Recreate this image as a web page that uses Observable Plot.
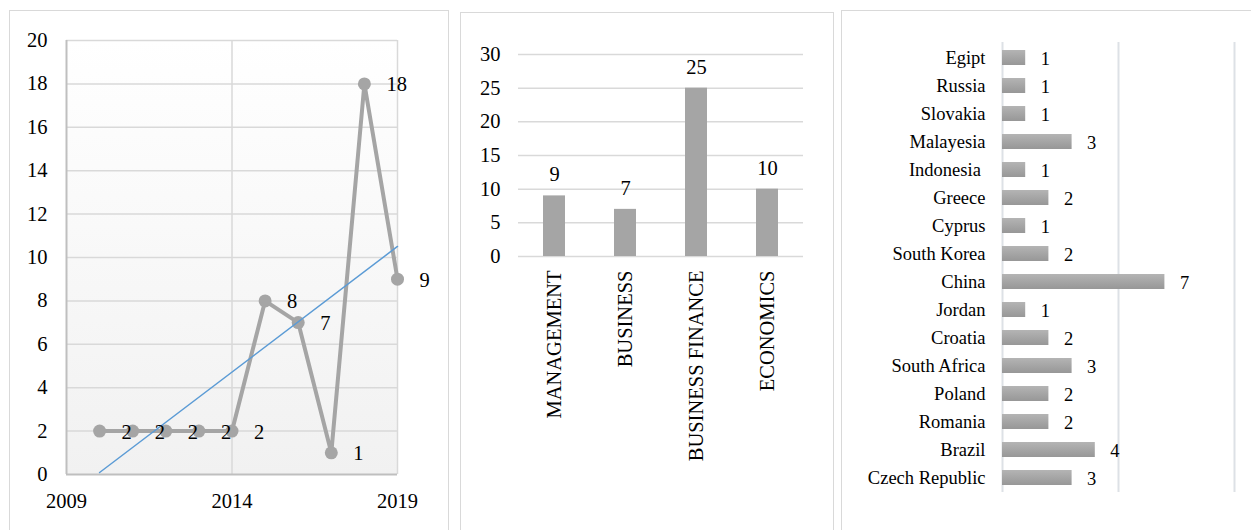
<!DOCTYPE html>
<html><head><meta charset="utf-8">
<script src="https://cdn.jsdelivr.net/npm/d3@7"></script>
<script src="https://cdn.jsdelivr.net/npm/@observablehq/plot@0.6"></script>
<style>
body{margin:0;background:#fff;}
#wrap{position:relative;width:1251px;height:530px;overflow:hidden;font-family:'Liberation Serif','Times New Roman',Times,serif;}
#wrap svg, #wrap svg text{font-family:'Liberation Serif','Times New Roman',Times,serif !important;}
.panel{position:absolute;border:1.5px solid #d9d9d9;box-sizing:border-box;}
.chart{position:absolute;top:0;height:530px;}
</style></head><body>
<div id="wrap">
<div class="panel" style="left:9px;top:10px;width:440px;height:540px"></div>
<div class="panel" style="left:460px;top:12px;width:374px;height:540px"></div>
<div class="panel" style="left:841px;top:10px;width:420px;height:540px"></div>
<div class="chart" id="c1" style="left:0;width:450px"></div>
<div class="chart" id="c2" style="left:450px;width:400px"></div>
<div class="chart" id="c3" style="left:840px;width:411px"></div>
</div>
<script>
// ---- Panel 1: publications per year ----
const years = [2010, 2011, 2012, 2013, 2014, 2015, 2016, 2017, 2018, 2019];
const yearCounts = [2, 2, 2, 2, 2, 8, 7, 1, 18, 9];
const yearTicks = [2009, 2014, 2019];
const countTicks = [0, 2, 4, 6, 8, 10, 12, 14, 16, 18, 20];

// ---- Panel 2: subject areas ----
const subjects = ["MANAGEMENT", "BUSINESS", "BUSINESS FINANCE", "ECONOMICS"];
const subjectCounts = [9, 7, 25, 10];
const subjectTicks = [0, 5, 10, 15, 20, 25, 30];

// ---- Panel 3: countries ----
const countries = ["Egipt", "Russia", "Slovakia", "Malayesia", "Indonesia\u00a0", "Greece", "Cyprus", "South Korea", "China", "Jordan", "Croatia", "South Africa", "Poland", "Romania", "Brazil", "Czech Republic"];
const countryCounts = [1, 1, 1, 3, 1, 2, 1, 2, 7, 1, 2, 3, 2, 2, 4, 3];
const countryGrid = [0, 5, 10];

const FONT = "'Liberation Serif','Times New Roman',Times,serif";
const GREY = "#a5a5a5";
const GRID = "#d9d9d9";

function addDefs(svg) {
  const defs = d3.select(svg).insert("defs", ":first-child");
  const bg = defs.append("linearGradient").attr("id", "bgGrad").attr("x1", 0).attr("y1", 0).attr("x2", 0).attr("y2", 1);
  bg.append("stop").attr("offset", "0%").attr("stop-color", "#ffffff");
  bg.append("stop").attr("offset", "100%").attr("stop-color", "#f1f1f1");
  const bar = defs.append("linearGradient").attr("id", "barGrad").attr("x1", 0).attr("y1", 0).attr("x2", 0).attr("y2", 1);
  bar.append("stop").attr("offset", "0%").attr("stop-color", "#b4b4b4");
  bar.append("stop").attr("offset", "100%").attr("stop-color", "#979797");
  return svg;
}

// Panel 1
const yearData = years.map((y, i) => ({year: y, count: yearCounts[i]}));
const p1 = Plot.plot({
  width: 450, height: 530,
  marginLeft: 66, marginRight: 53, marginTop: 40, marginBottom: 56,
  style: {background: "transparent", fontFamily: FONT, fontSize: "20.5px", color: "#000"},
  x: {domain: [2009, 2019], ticks: yearTicks, tickFormat: d => String(d), tickSize: 0, tickPadding: 19, label: null},
  y: {domain: [0, 20], ticks: countTicks, tickSize: 0, tickPadding: 19, label: null},
  marks: [
    Plot.frame({fill: "url(#bgGrad)", stroke: null}),
    Plot.ruleY(countTicks.slice(1), {stroke: GRID, strokeWidth: 1.5}),
    Plot.ruleX(yearTicks.slice(1), {stroke: GRID, strokeWidth: 1.5}),
    Plot.ruleX([2009], {stroke: "#bfbfbf", strokeWidth: 2}),
    Plot.ruleY([0], {stroke: "#bfbfbf", strokeWidth: 2}),
    Plot.line(yearData, {x: "year", y: "count", stroke: GREY, strokeWidth: 4}),
    Plot.dot(yearData, {x: "year", y: "count", r: 6.5, fill: GREY, stroke: null}),
    Plot.linearRegressionY(yearData, {x: "year", y: "count", stroke: "#5b9bd5", strokeWidth: 1.5, ci: 0}),
    Plot.text(yearData, {x: "year", y: "count", text: d => String(d.count), textAnchor: "start", dx: 22, dy: 1, fill: "#000"}),
    Plot.axisX({ticks: yearTicks, tickFormat: d => String(d), tickSize: 0, tickPadding: 19, fontSize: "20.5px"}),
    Plot.axisY({ticks: countTicks, tickSize: 0, tickPadding: 19, fontSize: "20.5px"})
  ]
});
document.getElementById("c1").appendChild(addDefs(p1));

// Panel 2
const subjectData = subjects.map((s, i) => ({subject: s, count: subjectCounts[i]}));
const p2 = Plot.plot({
  width: 400, height: 530,
  marginLeft: 68, marginRight: 47, marginTop: 54, marginBottom: 274,
  style: {background: "transparent", fontFamily: FONT, fontSize: "20.5px", color: "#000"},
  x: {domain: subjects, paddingInner: 0.69, paddingOuter: 0.345, label: null},
  y: {domain: [0, 30], ticks: subjectTicks, label: null},
  marks: [
    Plot.ruleY(subjectTicks, {stroke: GRID, strokeWidth: 1.5}),
    Plot.barY(subjectData, {x: "subject", y: "count", fill: GREY}),
    Plot.text(subjectData, {x: "subject", y: "count", text: d => String(d.count), dy: -21, fill: "#000"}),
    Plot.axisY({ticks: subjectTicks, tickSize: 0, tickPadding: 18, fontSize: "20.5px"}),
    Plot.axisX({tickSize: 0, tickPadding: 14, tickRotate: -90, fontSize: "20.5px"})
  ]
});
document.getElementById("c2").appendChild(p2);

// Panel 3
const countryData = countries.map((c, i) => ({country: c, count: countryCounts[i]}));
const p3 = Plot.plot({
  width: 411, height: 530,
  marginLeft: 162, marginRight: 17, marginTop: 42, marginBottom: 38,
  style: {background: "transparent", fontFamily: FONT, fontSize: "18.5px", color: "#000"},
  x: {domain: [0, 10], axis: null},
  y: {domain: countries, paddingInner: 0.467, paddingOuter: 0.233, label: null},
  marks: [
    Plot.ruleX(countryGrid, {stroke: "#dde1e6", strokeWidth: 2}),
    Plot.barX(countryData, {x: "count", y: "country", fill: "url(#barGrad)"}),
    Plot.text(countryData, {x: "count", y: "country", text: d => String(d.count), textAnchor: "start", dx: 15, dy: 1, fill: "#000"}),
    Plot.axisY({tickSize: 0, tickPadding: 17, fontSize: "18.5px"})
  ]
});
document.getElementById("c3").appendChild(addDefs(p3));
</script>
</body></html>
